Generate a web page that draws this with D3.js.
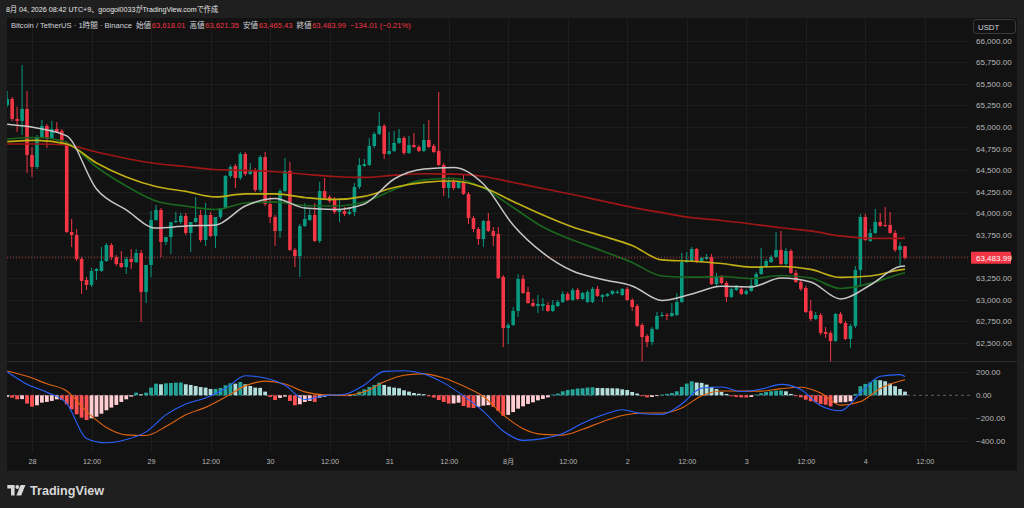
<!DOCTYPE html>
<html><head><meta charset="utf-8">
<script src="https://cdn.jsdelivr.net/npm/d3@7/dist/d3.min.js"></script>
<style>
html,body{margin:0;padding:0;background:#1f1f1f;}
svg{display:block;}
text{font-family:"Liberation Sans","Noto Sans CJK JP",sans-serif;}
</style></head>
<body>
<svg id="c" width="1024" height="508"></svg>
<script>
// ---------------- DATA ----------------
const startTime = Date.UTC(2026, 6, 27, 19); // first hourly candle (UTC+9 wall clock)
const opens = [65255,65325,65093,65070,65209,64676,64537,64884,65012,64872,
64977,64954,64815,63783,63748,63470,63227,63169,63331,63331,
63447,63632,63493,63424,63377,63470,63435,63540,63088,63401,
63922,64038,63667,63725,63899,63899,63969,63772,63899,63980,
63690,63980,63737,63957,64061,64432,64548,64409,64687,64455,
64502,64270,64652,64108,63957,63795,64258,64490,63575,63505,
63853,63922,63980,63679,64258,64189,64166,64015,64026,63992,
64015,64305,64548,64560,64780,64919,65012,64687,64722,64815,
64873,64699,64791,64768,64722,64849,64780,64722,64560,64293,
64363,64293,64363,64224,63945,63818,63702,63911,63795,63760,
63262,62670,62705,62868,63238,63088,62960,62925,62925,62937,
62868,62925,62972,63065,62995,63111,63007,62972,62972,63123,
63030,63042,63065,63076,63053,63123,62995,62925,62705,62578,
62508,62659,62810,62821,62810,62821,62972,63435,63447,63586,
63447,63470,63493,63180,63262,63192,63030,63111,63123,63065,
63099,63169,63296,63377,63435,63493,63575,63412,63563,63308,
63204,63134,62868,62775,62821,62624,62613,62520,62833,62728,
62543,62694,63342,63957,63679,63772,63899,63864,63864,63772,
63575,63618.01];
const highs = [65417,65348,65232,65719,65417,64768,64907,65081,65035,65070,
65058,64977,64838,63934,63818,63493,63262,63366,63366,63609,
63655,63655,63516,63563,63493,63586,63586,63575,63146,64026,
64096,64061,63714,63760,64015,64003,64003,63795,64189,64038,
64119,64015,63760,63992,64444,64560,64571,64710,64710,64583,
64525,64676,64710,64189,63980,64282,64641,64594,63598,63876,
64119,64061,64119,64363,64409,64212,64189,64177,64073,64073,
64351,64641,64629,64873,64942,65174,65035,64942,64954,64977,
64896,64896,64930,64791,65035,65081,64803,65406,64583,64421,
64409,64363,64444,64247,63969,63841,63922,64003,63841,63841,
63285,62728,62914,63296,63285,63146,63007,63053,63018,62972,
62995,62995,63099,63088,63134,63134,63088,63111,63146,63157,
63065,63076,63111,63111,63134,63146,63018,62949,62728,62601,
62682,62856,62856,62844,62960,63076,63540,63551,63609,63598,
63493,63528,63528,63308,63285,63215,63134,63169,63146,63123,
63250,63320,63598,63470,63516,63783,63795,63598,63586,63343,
63238,63157,62995,62856,62844,62682,62636,62844,62856,62752,
62717,63389,63992,63992,63818,64050,64003,64073,64015,63806,
63667,63621.35];
const lows = [65232,65070,64942,64907,64467,64421,64513,64872,64757,64861,
64930,64791,63772,63609,63447,63065,63111,63146,63227,63320,
63435,63459,63389,63366,63296,63354,63424,62740,62960,63262,
63911,63493,63632,63528,63887,63876,63748,63551,63887,63667,
63621,63725,63598,63934,64050,64409,64293,64386,64432,64444,
64247,64247,64084,63887,63621,63714,64247,63563,63377,63262,
63841,63911,63667,63655,64166,64119,63992,63899,63969,63980,
63969,64282,64536,64548,64757,64907,64629,64676,64710,64803,
64676,64687,64757,64710,64710,64757,64699,64548,64200,64177,
64270,64282,64212,63876,63783,63632,63609,63783,63621,63238,
62450,62485,62694,62798,63065,62949,62914,62844,62868,62856,
62856,62914,62960,62983,62983,62995,62995,62960,62960,63030,
62972,63030,63053,63065,63042,62983,62868,62682,62250,62450,
62474,62647,62798,62763,62798,62810,62960,63424,63435,63424,
63435,63459,63169,63157,63180,62972,63018,63099,63053,63053,
63088,63157,63285,63366,63424,63482,63400,63389,63296,63192,
63099,62844,62752,62763,62589,62555,62260,62508,62717,62531,
62439,62670,63146,63679,63667,63760,63841,63841,63760,63551,
63389,63465.43];
const closes = [65325,65093,65070,65209,64676,64537,64884,65012,64872,64977,
64942,64815,63783,63748,63470,63215,63169,63331,63354,63447,
63632,63493,63412,63377,63470,63435,63540,63088,63401,63922,
64038,63667,63725,63899,63911,63969,63772,63899,63945,63690,
63980,63737,63957,64061,64432,64537,64409,64687,64455,64502,
64270,64652,64108,63957,63795,64258,64490,63575,63505,63853,
63934,63980,63679,64258,64177,64142,64015,64038,63992,64015,
64305,64560,64571,64780,64919,65012,64687,64722,64815,64873,
64699,64791,64768,64722,64849,64768,64710,64560,64293,64363,
64293,64363,64224,63945,63818,63702,63911,63795,63737,63250,
62670,62705,62868,63238,63076,62960,62925,62949,62949,62868,
62937,62972,63065,62995,63111,63007,63076,63088,63123,63042,
63053,63065,63099,63088,63123,62995,62914,62694,62566,62508,
62659,62810,62821,62810,62844,62972,63435,63459,63586,63435,
63482,63493,63180,63262,63192,63030,63123,63146,63065,63099,
63169,63296,63377,63447,63493,63575,63412,63563,63308,63204,
63123,62856,62775,62821,62613,62601,62520,62833,62728,62543,
62694,63342,63957,63690,63772,63899,63853,63853,63772,63575,
63621,63483.99];

// moving averages, read every 6 hours
const maHours = [0,6,12,18,24,30,36,42,48,54,60,66,72,78,84,90,96,102,108,114,120,126,132,138,144,150,156,162,168,174,180,181];
const maWhite = [65031,64988,64896,64281,64038,63829,63853,63864,64084,64171,64061,64044,64108,64397,64513,64531,64339,63864,63540,63331,63233,63157,62989,63065,63154,63146,63250,63204,63007,63169,63383,63389];
const maYellow = [64830,64844,64803,64583,64421,64310,64253,64189,64224,64224,64183,64160,64195,64299,64357,64374,64299,64137,63980,63841,63737,63627,63459,63444,63418,63377,63383,63349,63256,63273,63343,63351];
const maGreen = [64861,64878,64820,64536,64316,64142,64084,64044,64119,64131,64090,64084,64131,64276,64386,64403,64293,64067,63841,63690,63563,63430,63273,63259,63267,63244,63279,63250,63128,63188,63296,63311];
const maRed = [64803,64803,64791,64710,64635,64577,64542,64507,64498,64481,64452,64426,64415,64441,64458,64453,64426,64357,64287,64218,64142,64069,64007,63949,63916,63876,63832,63795,63737,63710,63710,63710];

// MACD lines, read every 4 hours
const macdHours = [0,4,8,12,16,20,24,28,32,36,40,44,48,52,56,60,64,68,72,76,80,84,88,92,96,100,104,108,112,116,120,124,128,132,136,140,144,148,152,156,160,164,168,172,176,180,181];
const macdLine = [206,96,27,-70,-375,-413,-385,-318,-170,-75,-23,60,170,150,87,-36,-3,9,90,208,213,186,108,-5,-140,-310,-392,-377,-333,-243,-172,-125,-160,-166,-75,62,72,33,54,95,50,-90,-134,20,165,180,163];
const signalLine = [212,165,100,38,-140,-280,-344,-349,-272,-170,-105,-15,82,123,98,30,4,0,30,117,175,186,150,80,-10,-170,-290,-340,-346,-296,-230,-176,-154,-154,-110,-4,38,36,36,58,70,20,-85,-55,60,125,136];
const histogram = [-14,-20,-35,-33,-72,-99,-87,-64,-58,-49,
-35,-41,-78,-122,-165,-194,-215,-200,-186,-160,
-130,-107,-84,-58,-35,-12,23,9,23,67,
101,96,104,107,110,111,96,90,81,72,
67,55,56,64,87,104,101,116,96,81,
67,65,32,-14,-41,-23,-12,-49,-87,-78,
-58,-49,-58,-20,-12,6,2,-3,-5,-3,
3,32,52,72,90,110,90,75,67,61,
43,32,20,14,9,-9,-20,-41,-58,-72,
-71,-64,-93,-107,-110,-100,-90,-86,-100,-135,
-178,-170,-146,-116,-96,-75,-61,-44,-32,-18,
6,15,35,46,52,59,61,67,70,64,
63,62,61,60,52,46,29,15,-8,-18,
-15,-6,6,12,20,35,73,102,122,111,
108,93,73,55,29,12,-8,-15,-18,-19,
-15,6,18,29,35,41,42,35,12,-8,
-18,-38,-52,-61,-75,-82,-96,-67,-61,-60,
-52,12,79,99,113,134,131,122,102,79,
55,32];

const priceTicks = [62500,62750,63000,63250,63500,63750,64000,64250,64500,64750,65000,65250,65500,65750,66000];
const macdTicks = [200,0,-200,-400];
const timeTickLabels = ["28","12:00","29","12:00","30","12:00","31","12:00","8月","12:00","2","12:00","3","12:00","4","12:00"];
const lastPrice = 63483.99;
const titleText = "8月 04, 2026 08:42 UTC+9、googol0033がTradingView.comで作成";
const legendParts = [
  {t:"Bitcoin / TetherUS · 1時間 · Binance", c:"#d1d4dc", gap:0},
  {t:"始値", c:"#d1d4dc", gap:4},{t:"63,618.01", c:"#f23645", gap:0.5},
  {t:"高値", c:"#d1d4dc", gap:4},{t:"63,621.35", c:"#f23645", gap:0.5},
  {t:"安値", c:"#d1d4dc", gap:4},{t:"63,465.43", c:"#f23645", gap:0.5},
  {t:"終値", c:"#d1d4dc", gap:4},{t:"63,483.99", c:"#f23645", gap:0.5},
  {t:"−134.01 (−0.21%)", c:"#f23645", gap:4}
];

// ---------------- LAYOUT ----------------
const H1 = 3600000;
const tAt = h => new Date(startTime + h*H1);
const plotL = 7, plotR = 970, panelR = 1017;
const pTop = 18, pBot = 361.5, mTop = 362, mBot = 452, axBot = 470.5;

const svg = d3.select("#c");
svg.append("rect").attr("width",1024).attr("height",508).attr("fill","#1f1f1f");
svg.append("rect").attr("x",plotL).attr("y",pTop).attr("width",panelR-plotL).attr("height",axBot-pTop).attr("fill","#121212");

const x = d3.scaleUtc().domain([tAt(0), tAt(181)]).range([7.2, 905]);
const y = d3.scaleLinear().domain([62500, 66000]).range([342.7, 40.7]);
const ym = d3.scaleLinear().domain([-400, 200]).range([441.3, 372.3]);

const defs = svg.append("defs");
defs.append("clipPath").attr("id","cp").append("rect").attr("x",plotL).attr("y",pTop).attr("width",plotR-plotL).attr("height",pBot-pTop);
defs.append("clipPath").attr("id","cm").append("rect").attr("x",plotL).attr("y",mTop).attr("width",plotR-plotL).attr("height",mBot-mTop);

// grid
const timeTicks = timeTickLabels.map((d,i)=>tAt(5 + 12*i));
const grid = svg.append("g").attr("stroke","#1d1d1d").attr("stroke-width",1);
timeTicks.forEach(t=>{
  const xx = Math.round(x(t))+0.5;
  grid.append("line").attr("x1",xx).attr("x2",xx).attr("y1",pTop).attr("y2",mBot);
});
priceTicks.forEach(p=>{
  const yy = Math.round(y(p))+0.5;
  grid.append("line").attr("x1",plotL).attr("x2",plotR).attr("y1",yy).attr("y2",yy);
});
macdTicks.filter(v=>v!==0).forEach(v=>{
  const yy = Math.round(ym(v))+0.5;
  grid.append("line").attr("x1",plotL).attr("x2",plotR).attr("y1",yy).attr("y2",yy);
});
// pane separator
svg.append("line").attr("x1",plotL).attr("x2",panelR).attr("y1",361.5).attr("y2",361.5).attr("stroke","#2e2e2e");

// ---------------- CANDLES ----------------
const up = "#089981", dn = "#f23645";
const cg = svg.append("g").attr("clip-path","url(#cp)");
const bw = 3.6;
opens.forEach((o,i)=>{
  const c = closes[i], col = c >= o ? up : dn, xx = x(tAt(i));
  cg.append("line").attr("x1",xx).attr("x2",xx).attr("y1",y(highs[i])).attr("y2",y(lows[i])).attr("stroke",col).attr("stroke-width",1);
  const yt = y(Math.max(o,c)), yb = y(Math.min(o,c));
  cg.append("rect").attr("x",xx-bw/2).attr("y",yt).attr("width",bw).attr("height",Math.max(1,yb-yt)).attr("fill",col);
});

// MAs
const maLine = d3.line().x((d,i)=>x(tAt(maHours[i]))).y(d=>y(d)).curve(d3.curveMonotoneX);
[[maRed,"#a01616",1.7],[maGreen,"#1a661e",1.7],[maYellow,"#bfae14",1.7],[maWhite,"#c6c6c6",1.5]].forEach(([arr,col,w])=>{
  cg.append("path").attr("d",maLine(arr)).attr("fill","none").attr("stroke",col).attr("stroke-width",w);
});

// last price line
cg.append("line").attr("x1",plotL).attr("x2",plotR).attr("y1",y(lastPrice)).attr("y2",y(lastPrice))
  .attr("stroke","#f23645").attr("stroke-width",1).attr("stroke-dasharray","1,2").attr("opacity",0.8);

// ---------------- MACD ----------------
const mg = svg.append("g").attr("clip-path","url(#cm)");
mg.append("line").attr("x1",plotL).attr("x2",plotR).attr("y1",ym(0)).attr("y2",ym(0))
  .attr("stroke","#5d606b").attr("stroke-dasharray","3,3");
histogram.forEach((v,i)=>{
  const prev = i>0 ? histogram[i-1] : v;
  let col;
  if (v >= 0) col = v >= prev ? "#26a69a" : "#b2dfdb";
  else col = v < prev ? "#ff5252" : "#ffcdd2";
  const xx = x(tAt(i)), y0 = ym(0), y1 = ym(v);
  mg.append("rect").attr("x",xx-1.9).attr("width",3.8).attr("y",Math.min(y0,y1)).attr("height",Math.max(0.8,Math.abs(y1-y0))).attr("fill",col);
});
const mLine = d3.line().x((d,i)=>x(tAt(macdHours[i]))).y(d=>ym(d)).curve(d3.curveMonotoneX);
mg.append("path").attr("d",mLine(signalLine)).attr("fill","none").attr("stroke","#e0650e").attr("stroke-width",1.1);
mg.append("path").attr("d",mLine(macdLine)).attr("fill","none").attr("stroke","#2962ff").attr("stroke-width",1.1);

// ---------------- AXES ----------------
const axisStyle = g => {
  g.select(".domain").remove();
  g.selectAll(".tick line").remove();
  g.selectAll("text").attr("fill","#b8b8b8").attr("font-family","Liberation Sans, sans-serif");
};
const pAxis = d3.axisRight(y).tickValues(priceTicks).tickFormat(d3.format(",.2f")).tickSize(0).tickPadding(6);
svg.append("g").attr("transform",`translate(${plotR},0)`).call(pAxis).call(axisStyle)
  .selectAll("text").attr("font-size",8).attr("text-anchor","start");
const mAxis = d3.axisRight(ym).tickValues(macdTicks).tickFormat(d3.format(",.2f")).tickSize(0).tickPadding(6);
svg.append("g").attr("transform",`translate(${plotR},0)`).call(mAxis).call(axisStyle)
  .selectAll("text").attr("font-size",8).attr("text-anchor","start");
const tAxis = d3.axisBottom(x).tickValues(timeTicks).tickFormat((d,i)=>timeTickLabels[i]).tickSize(0).tickPadding(0);
svg.append("g").attr("transform",`translate(0,459)`).call(tAxis).call(axisStyle)
  .selectAll("text").attr("font-size",7.2).attr("font-family","Liberation Sans, Noto Sans CJK JP, sans-serif");

// last price label
const ly = y(lastPrice);
svg.append("rect").attr("x",971).attr("y",ly-6).attr("width",40).attr("height",12).attr("fill","#f23645").attr("rx",1);
svg.append("text").attr("x",976).attr("y",ly+3).attr("font-size",8).attr("fill","#ffffff").text(d3.format(",.2f")(lastPrice));

// USDT box
svg.append("rect").attr("x",973.5).attr("y",19.5).attr("width",42).attr("height",14).attr("rx",3).attr("fill","#121212").attr("stroke","#3b3b3b");
svg.append("text").attr("x",978).attr("y",29.5).attr("font-size",7.8).attr("fill","#d1d4dc").text("USDT");

// ---------------- TEXT ----------------
svg.append("text").attr("x",6).attr("y",12).attr("font-size",8.1).attr("fill","#e6e6e6")
  .attr("textLength",212).attr("lengthAdjust","spacingAndGlyphs")
  .attr("font-family","Liberation Sans, Noto Sans CJK JP, sans-serif").text(titleText);
const lg = svg.append("text").attr("x",11).attr("y",28).attr("font-size",7.6)
  .attr("font-family","Liberation Sans, Noto Sans CJK JP, sans-serif");
legendParts.forEach(p=>lg.append("tspan").attr("dx",p.gap).attr("fill",p.c).text(p.t));

// TradingView logo
const logo = svg.append("g").attr("fill","#d8d8d8");
logo.append("path").attr("d","M7.3,485 H14.6 V495.5 H11 V488.6 H7.3 Z");
logo.append("circle").attr("cx",17.3).attr("cy",487).attr("r",1.9);
logo.append("path").attr("d","M20.6,485 H25.4 L21.2,495.5 H16.4 Z");
svg.append("text").attr("x",30).attr("y",495).attr("font-size",12.6).attr("font-weight","bold").attr("fill","#d8d8d8").text("TradingView");
</script>
</body></html>
